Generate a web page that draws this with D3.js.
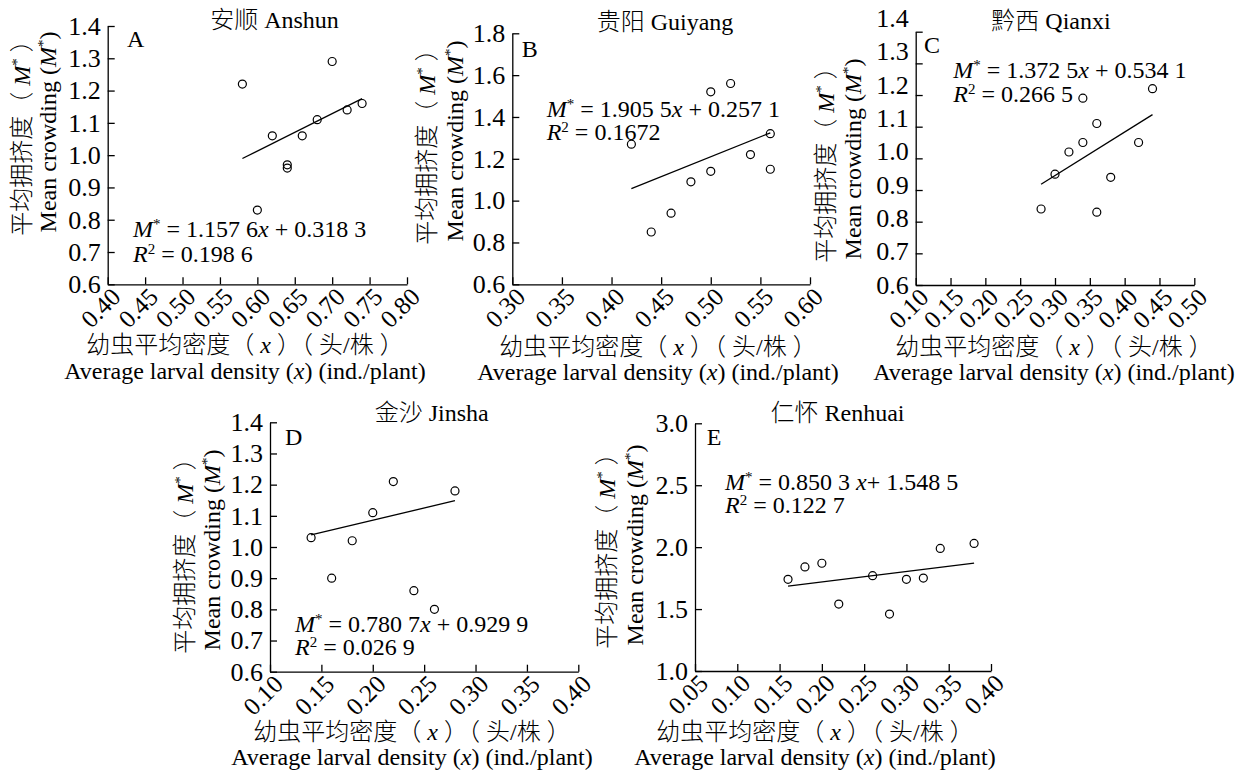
<!DOCTYPE html>
<html>
<head>
<meta charset="utf-8">
<script src="https://cdn.jsdelivr.net/npm/d3@7/dist/d3.min.js"></script>
<style>
  html, body { margin: 0; padding: 0; background: #fff; }
  svg { display: block; }
  text { font-family: "Liberation Serif", "Noto Sans CJK SC", serif; fill: #000; }
  .cjk { font-weight: 300; }
</style>
</head>
<body>
<svg id="chart" width="1247" height="774"></svg>
<script>
// ---------------- data ----------------
const panelIds = ["A", "B", "C", "D", "E"];
const regionNames = ["安顺 Anshun", "贵阳 Guiyang", "黔西 Qianxi", "金沙 Jinsha", "仁怀 Renhuai"];

const densityA  = [0.58, 0.60, 0.62, 0.64, 0.64, 0.66, 0.68, 0.70, 0.72, 0.74];
const crowdingA = [1.22, 0.83, 1.06, 0.97, 0.96, 1.06, 1.11, 1.29, 1.14, 1.16];

const densityB  = [0.42, 0.44, 0.46, 0.48, 0.50, 0.50, 0.52, 0.54, 0.56, 0.56];
const crowdingB = [1.27, 0.85, 0.94, 1.09, 1.14, 1.52, 1.56, 1.22, 1.32, 1.15];

const densityC  = [0.28, 0.30, 0.32, 0.34, 0.34, 0.36, 0.36, 0.38, 0.42, 0.44];
const crowdingC = [0.84, 0.95, 1.02, 1.05, 1.19, 1.11, 0.83, 0.94, 1.05, 1.22];

const densityD  = [0.14, 0.16, 0.18, 0.20, 0.22, 0.24, 0.26, 0.28];
const crowdingD = [1.03, 0.90, 1.02, 1.11, 1.21, 0.86, 0.80, 1.18];

const densityE  = [0.16, 0.18, 0.20, 0.22, 0.26, 0.28, 0.30, 0.32, 0.34, 0.38];
const crowdingE = [1.74, 1.84, 1.87, 1.54, 1.77, 1.46, 1.74, 1.75, 1.99, 2.03];

const slopes     = [1.1576, 1.9055, 1.3725, 0.7807, 0.8503];
const intercepts = [0.3183, 0.2571, 0.5341, 0.9299, 1.5485];
const slopeLabels     = ["1.157 6", "1.905 5", "1.372 5", "0.780 7", "0.850 3"];
const interceptLabels = ["0.318 3", "0.257 1", "0.534 1", "0.929 9", "1.548 5"];
const r2Labels        = ["0.198 6", "0.1672", "0.266 5", "0.026 9", "0.122 7"];

const xTicksA = [0.40, 0.45, 0.50, 0.55, 0.60, 0.65, 0.70, 0.75, 0.80];
const xTicksB = [0.30, 0.35, 0.40, 0.45, 0.50, 0.55, 0.60];
const xTicksC = [0.10, 0.15, 0.20, 0.25, 0.30, 0.35, 0.40, 0.45, 0.50];
const xTicksD = [0.10, 0.15, 0.20, 0.25, 0.30, 0.35, 0.40];
const xTicksE = [0.05, 0.10, 0.15, 0.20, 0.25, 0.30, 0.35, 0.40];

const yTicksA = [0.6, 0.7, 0.8, 0.9, 1.0, 1.1, 1.2, 1.3, 1.4];
const yTicksB = [0.6, 0.8, 1.0, 1.2, 1.4, 1.6, 1.8];
const yTicksC = [0.6, 0.7, 0.8, 0.9, 1.0, 1.1, 1.2, 1.3, 1.4];
const yTicksD = [0.6, 0.7, 0.8, 0.9, 1.0, 1.1, 1.2, 1.3, 1.4];
const yTicksE = [1.0, 1.5, 2.0, 2.5, 3.0];

const densities = [densityA, densityB, densityC, densityD, densityE];
const crowdings = [crowdingA, crowdingB, crowdingC, crowdingD, crowdingE];
const xTickSets = [xTicksA, xTicksB, xTicksC, xTicksD, xTicksE];
const yTickSets = [yTicksA, yTicksB, yTicksC, yTicksD, yTicksE];

// ---------------- layout (pixels) ----------------
const layout = [
  { l: 107.7, r: 407,   t: 26,    b: 284.3, title: [274.5, 28],  letter: [127, 46.7],  eq: [133, 237, 262],     yl: [30, 56, 132],   xl: [245, 353, 379] },
  { l: 512.3, r: 810,   t: 33.3,  b: 284.3, title: [665, 30],    letter: [521.7, 56.7], eq: [546.7, 116.7, 140], yl: [435, 463, 141], xl: [658, 355, 380] },
  { l: 915.7, r: 1194.3, t: 31.7, b: 285,   title: [1051, 29],   letter: [924, 53],    eq: [953.3, 78, 101.7],  yl: [834, 861, 159], xl: [1054, 355, 380], labelTop: 18 },
  { l: 270,   r: 578.3, t: 422.3, b: 671.7, title: [431.7, 421], letter: [285, 445],   eq: [295, 631.7, 655],   yl: [193, 220, 550], xl: [412, 740, 765] },
  { l: 695,   r: 991,   t: 423.3, b: 671,   title: [837.5, 421], letter: [706.7, 445], eq: [725, 490, 513],     yl: [615, 643, 545], xl: [815, 740, 765] }
];

const svg = d3.select("#chart");
const FS = 24;

function addSup(t, s) {
  t.append("tspan").attr("dy", -8).attr("font-size", 15).text(s);
}

panelIds.forEach((id, i) => {
  const L = layout[i];
  const xt = xTickSets[i], yt = yTickSets[i];
  const x = d3.scaleLinear().domain([xt[0], xt[xt.length - 1]]).range([L.l, L.r]);
  const y = d3.scaleLinear().domain([yt[0], yt[yt.length - 1]]).range([L.b, L.t]);
  const g = svg.append("g");

  // x axis
  const gx = g.append("g").attr("transform", `translate(0,${L.b})`)
    .call(d3.axisBottom(x).tickValues(xt).tickSizeInner(-7).tickSizeOuter(0).tickFormat(d3.format(".2f")));
  gx.selectAll("text")
    .attr("x", 0).attr("y", 0).attr("dy", 0)
    .attr("text-anchor", "end")
    .attr("font-size", 25)
    .attr("font-family", "Liberation Serif")
    .attr("fill", "#000")
    .attr("transform", "translate(14,14) rotate(-45)");

  // y axis
  const gy = g.append("g").attr("transform", `translate(${L.l},0)`)
    .call(d3.axisLeft(y).tickValues(yt).tickSizeInner(-7).tickSizeOuter(0).tickPadding(7).tickFormat(d3.format(".1f")));
  gy.selectAll("text")
    .attr("font-size", 26)
    .attr("font-family", "Liberation Serif")
    .attr("fill", "#000");
  if (L.labelTop !== undefined) {
    const yLab = d3.scaleLinear().domain([yt[0], yt[yt.length - 1]]).range([L.b, L.labelTop]);
    gy.selectAll(".tick").each(function (d) {
      d3.select(this).select("text").attr("y", yLab(d) - y(d));
    });
  }
  [gx, gy].forEach(a => {
    a.selectAll("path,line").attr("stroke", "#000").attr("stroke-width", 1.3);
  });

  // regression line
  const xs = densities[i];
  const x0 = d3.min(xs), x1 = d3.max(xs);
  g.append("line")
    .attr("x1", x(x0)).attr("y1", y(slopes[i] * x0 + intercepts[i]))
    .attr("x2", x(x1)).attr("y2", y(slopes[i] * x1 + intercepts[i]))
    .attr("stroke", "#000").attr("stroke-width", 1.3);

  // points
  g.selectAll("circle.pt").data(xs.map((v, k) => [v, crowdings[i][k]])).join("circle")
    .attr("class", "pt")
    .attr("cx", d => x(d[0])).attr("cy", d => y(d[1]))
    .attr("r", 4).attr("fill", "none").attr("stroke", "#000").attr("stroke-width", 1.2);

  // title
  const tt = g.append("text").attr("x", L.title[0]).attr("y", L.title[1]).attr("text-anchor", "middle")
    .attr("font-size", FS);
  const parts = regionNames[i].split(" ");
  tt.append("tspan").attr("class", "cjk").text(parts[0] + " ");
  tt.append("tspan").text(parts.slice(1).join(" "));
  // panel letter
  g.append("text").attr("x", L.letter[0]).attr("y", L.letter[1]).attr("font-size", FS).text(id);

  // equation
  const e1 = g.append("text").attr("x", L.eq[0]).attr("y", L.eq[1]).attr("font-size", FS);
  e1.append("tspan").attr("font-style", "italic").text("M");
  addSup(e1, "*");
  if (i === 4) {
    e1.append("tspan").attr("dy", 8).text(` = ${slopeLabels[i]} `);
    e1.append("tspan").attr("font-style", "italic").text("x");
    e1.append("tspan").text(`+ ${interceptLabels[i]}`);
  } else {
    e1.append("tspan").attr("dy", 8).text(` = ${slopeLabels[i]}`);
    e1.append("tspan").attr("font-style", "italic").text("x");
    e1.append("tspan").text(` + ${interceptLabels[i]}`);
  }
  const e2 = g.append("text").attr("x", L.eq[0]).attr("y", L.eq[2]).attr("font-size", FS);
  e2.append("tspan").attr("font-style", "italic").text("R");
  addSup(e2, "2");
  e2.append("tspan").attr("dy", 8).text(` = ${r2Labels[i]}`);

  // y axis label (two lines, rotated)
  const yc = L.yl[2];
  const t1 = g.append("text").attr("transform", `translate(${L.yl[0]},${yc}) rotate(-90)`)
    .attr("text-anchor", "middle").attr("font-size", FS);
  t1.append("tspan").attr("class", "cjk").text("平均拥挤度（ ");
  t1.append("tspan").attr("font-style", "italic").text("M");
  addSup(t1, "*");
  t1.append("tspan").attr("class", "cjk").attr("dy", 8).text(" ）");
  const t2 = g.append("text").attr("transform", `translate(${L.yl[1]},${yc}) rotate(-90)`)
    .attr("text-anchor", "middle").attr("font-size", FS);
  t2.append("tspan").text("Mean crowding (");
  t2.append("tspan").attr("font-style", "italic").text("M");
  addSup(t2, "*");
  t2.append("tspan").attr("dy", 8).text(")");

  // x axis label (two lines)
  const x1t = g.append("text").attr("x", L.xl[0]).attr("y", L.xl[1]).attr("text-anchor", "middle").attr("font-size", FS);
  x1t.append("tspan").attr("class", "cjk").text("幼虫平均密度（ ");
  x1t.append("tspan").attr("font-style", "italic").text("x");
  x1t.append("tspan").attr("class", "cjk").text(" ）（ 头/株 ）");
  const x2t = g.append("text").attr("x", L.xl[0]).attr("y", L.xl[2]).attr("text-anchor", "middle").attr("font-size", FS);
  x2t.append("tspan").text("Average larval density (");
  x2t.append("tspan").attr("font-style", "italic").text("x");
  x2t.append("tspan").text(") (ind./plant)");
});
</script>
</body>
</html>
